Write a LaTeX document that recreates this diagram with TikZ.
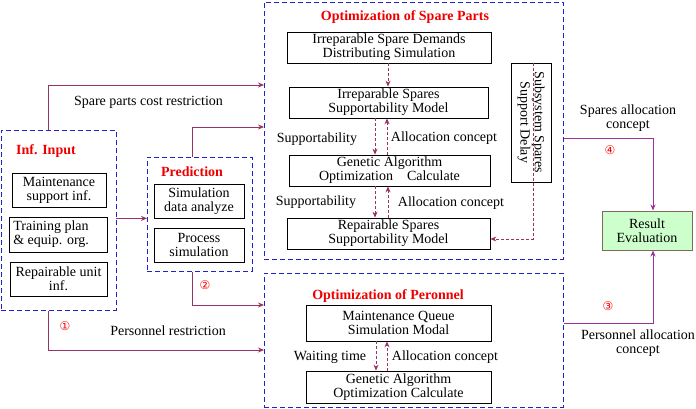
\documentclass[tikz,border=0pt]{standalone}
\usepackage{fontspec}
\setmainfont{Liberation Serif}
\newfontfamily\dvfont{DejaVu Sans}
\usetikzlibrary{arrows.meta}
\definecolor{lnk}{HTML}{993366}
\definecolor{lnkb}{HTML}{993399}
\definecolor{grpblue}{HTML}{2222CC}
\definecolor{ttlred}{HTML}{EE0000}
\definecolor{resfill}{HTML}{CCFFCC}
\definecolor{resdraw}{HTML}{7F6A5A}
\begin{document}
\begin{tikzpicture}[x=1pt,y=-1pt,
  grp/.style={draw=grpblue, dashed, line width=0.9pt, dash pattern=on 5pt off 3pt},
  blk/.style={draw=black, line width=0.8pt, align=center, inner sep=0pt, font=\fontsize{14}{14.2}\selectfont},
  ttl/.style={text=ttlred, font=\fontsize{14}{15}\selectfont\bfseries},
  lbl/.style={font=\fontsize{14}{14.2}\selectfont, align=center, inner sep=0pt},
  num/.style={text=red, font=\dvfont\fontsize{12}{12}\selectfont, inner sep=0pt},
  link/.style={draw=lnk, line width=0.9pt, -{Stealth[length=6pt,width=5pt]}},
  linkb/.style={draw=lnkb, line width=0.9pt, -{Stealth[length=6pt,width=5pt]}},
  dlink/.style={draw=lnk, line width=0.8pt, dashed, dash pattern=on 3pt off 2pt, -{Stealth[length=6pt,width=5pt]}}
]
\useasboundingbox (0,0) rectangle (696,409);
% groups
\node[grp, minimum width=115pt, minimum height=180pt, anchor=north west, inner sep=0pt] (inp) at (0.5,130) {};
\node[grp, minimum width=105pt, minimum height=114pt, anchor=north west, inner sep=0pt] (pred) at (147,157) {};
\node[grp, minimum width=299pt, minimum height=257pt, anchor=north west, inner sep=0pt] (spg) at (264,2) {};
\node[grp, minimum width=299pt, minimum height=134pt, anchor=north west, inner sep=0pt] (peg) at (264,273) {};
% titles
\node[ttl] (tinp) at (46,151) {Inf. Input};
\node[ttl] (tpred) at (192,172) {Prediction};
\node[ttl] (tsp) at (405,17) {Optimization of Spare Parts};
\node[ttl] (tpe) at (388,296) {Optimization of Peronnel};
% input boxes
\node[blk, minimum width=94pt, minimum height=34pt] (ms) at (59,190) {Maintenance\\support inf.};
\node[blk, minimum width=98pt, minimum height=35pt, align=left] (tp) at (58,234.5) {Training plan\hspace*{14pt}\\\& equip. org.};
\node[blk, minimum width=97pt, minimum height=34pt] (ru) at (58.5,279) {Repairable unit\\inf.};
% prediction boxes
\node[blk, minimum width=90pt, minimum height=34pt] (sd) at (199,201) {Simulation\\data analyze};
\node[blk, minimum width=90pt, minimum height=34pt] (ps) at (199,245) {Process\\simulation};
% spare parts boxes
\node[blk, minimum width=204pt, minimum height=31pt] (isd) at (389,47.5) {Irreparable Spare Demands\\Distributing Simulation};
\node[blk, minimum width=199pt, minimum height=31pt] (ism) at (388.5,102.5) {Irreparable Spares\\Supportability Model};
\node[blk, minimum width=201pt, minimum height=31pt] (ga) at (389.5,170.5) {Genetic Algorithm\\Optimization\quad Calculate};
\node[blk, minimum width=203pt, minimum height=31pt] (rsm) at (388.5,233.5) {Repairable Spares\\Supportability Model};
\node[blk, minimum width=119pt, minimum height=40pt, rotate=-90] (ssd) at (531,122.5) {Subsystem Spares\\Support Delay};
% personnel boxes
\node[blk, minimum width=185pt, minimum height=36pt] (mq) at (398.5,323) {Maintenance Queue\\Simulation Modal};
\node[blk, minimum width=185pt, minimum height=32pt] (gap) at (398.5,387) {Genetic Algorithm\\Optimization Calculate};
% result
\node[blk, fill=resfill, draw=resdraw, line width=1pt, minimum width=90pt, minimum height=39pt] (res) at (647,230.5) {Result\\Evaluation};
% coordinates
\coordinate (c1) at (48,85);
\coordinate (c2) at (192,127);
\coordinate (c3) at (192,305);
\coordinate (c4) at (48,350);
\coordinate (c5) at (653,138);
\coordinate (c6) at (653,323);
\coordinate (c7) at (533,239);
% main connectors
\draw[link] (inp.north -| c1) |- (c1 -| spg.west);
\draw[link] (inp.east |- sd.south) -- (pred.west |- sd.south);
\draw[link] (pred.north -| c2) |- (c2 -| spg.west);
\draw[link] (pred.south -| c3) |- (c3 -| peg.west);
\draw[link] (inp.south -| c4) |- (c4 -| peg.west);
\draw[linkb] (spg.east |- c5) -| (res.north -| c5);
\draw[linkb] (peg.east |- c6) -| (res.south -| c6);
% inner dashed connectors
\draw[dlink] (isd.south -| 388,0) -- (ism.north -| 388,0);
\draw[dlink] (ism.south -| 375,0) -- (ga.north -| 375,0);
\draw[dlink] (ga.north -| 387,0) -- (ism.south -| 387,0);
\draw[dlink] (ga.south -| 375,0) -- (rsm.north -| 375,0);
\draw[dlink] (rsm.north -| 388,0) -- (ga.south -| 388,0);
\draw[dlink] (mq.south -| 376,0) -- (gap.north -| 376,0);
\draw[dlink] (gap.north -| 387,0) -- (mq.south -| 387,0);
\draw[dlink] (ssd.west -| c7) |- (rsm.east |- c7);
% labels
\node[lbl] (l1) at (148.5,102) {Spare parts cost restriction};
\node[lbl] (l2) at (168,331) {Personnel restriction};
\node[lbl] (l3) at (317,139) {Supportability};
\node[lbl] (l4) at (444,138) {Allocation concept};
\node[lbl] (l5) at (316,202) {Supportability};
\node[lbl] (l6) at (451,203) {Allocation concept};
\node[lbl] (l7) at (330,357) {Waiting time};
\node[lbl] (l8) at (445,357) {Allocation concept};
\node[lbl] (l9) at (628,118) {Spares allocation\\concept};
\node[lbl] (l10) at (638,343) {Personnel allocation\\concept};
\node[num] (n1) at (65,326) {①};
\node[num] (n2) at (205,285) {②};
\node[num] (n3) at (608,306) {③};
\node[num] (n4) at (610,150) {④};
\end{tikzpicture}
\end{document}
